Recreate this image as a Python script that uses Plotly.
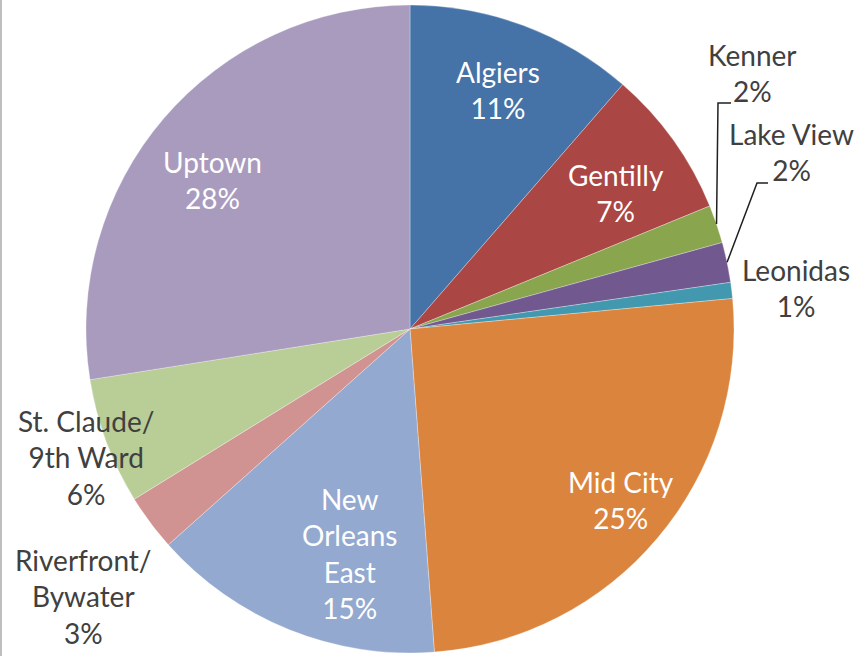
import math
import plotly.graph_objects as go

# ---- data ----
districts = ["Algiers", "Gentilly", "Kenner", "Lake View", "Leonidas", "Mid City",
             "New Orleans East", "Riverfront/Bywater", "St. Claude/9th Ward", "Uptown"]
display_names = ["Algiers", "Gentilly", "Kenner", "Lake View", "Leonidas", "Mid City",
                 "New<br>Orleans<br>East", "Riverfront/<br>Bywater", "St. Claude/<br>9th Ward", "Uptown"]
shares = [11.4, 7.4, 1.9, 2.0, 0.8, 25.3, 14.6, 2.8, 6.3, 27.5]

# ---- style ----
colors = ["#4572A7", "#AA4643", "#89A54E", "#71588F", "#4198AF", "#DB843D",
          "#93A9CF", "#D19392", "#B9CD96", "#A99BBD"]
W, H = 859, 656
CX, CY, R = 410, 329, 324
FONT = "Lato"
FS = 28
DARK = "#404040"

# label anchor (pixel, centre of text block), inside flag, leader elbow
label_layout = {
    "Algiers": dict(xy=(498, 90), inside=True),
    "Gentilly": dict(xy=(616, 193), inside=True),
    "Kenner": dict(xy=(752, 73), inside=False, elbow=(718, 103), end=(731, 103)),
    "Lake View": dict(xy=(791, 152), inside=False, elbow=(757, 183), end=(768, 183)),
    "Leonidas": dict(xy=(796, 288), inside=False),
    "Mid City": dict(xy=(621, 500), inside=True),
    "New Orleans East": dict(xy=(349, 553), inside=True),
    "Riverfront/Bywater": dict(xy=(83, 596), inside=False),
    "St. Claude/9th Ward": dict(xy=(86, 458), inside=False),
    "Uptown": dict(xy=(212, 180), inside=True),
}

total = sum(shares)
pct_text = [f"{math.floor(v / total * 100 + 0.5)}%" for v in shares]

fig = go.Figure(go.Pie(
    labels=districts,
    values=shares,
    sort=False,
    direction="clockwise",
    rotation=0,
    marker=dict(colors=colors, line=dict(color="rgba(255,255,255,0.6)", width=0.5)),
    textinfo="none",
    hoverinfo="label+percent",
    showlegend=False,
    domain=dict(x=[(CX - R) / W, (CX + R) / W], y=[(H - CY - R) / H, (H - CY + R) / H]),
))

def px2paper(x, y):
    return x / W, 1 - y / H

annotations = []
shapes = []
cum = 0.0
for name, disp, v, pct in zip(districts, display_names, shares, pct_text):
    mid = (cum + v / 2) / total * 2 * math.pi
    cum += v
    lay = label_layout[name]
    x, y = px2paper(*lay["xy"])
    annotations.append(dict(
        x=x, y=y, xref="paper", yref="paper", xanchor="center", yanchor="middle",
        text=f"{disp}<br>{pct}", showarrow=False, align="center",
        font=dict(family=FONT, size=FS, color="white" if lay["inside"] else DARK),
    ))
    if "elbow" in lay:
        sx, sy = CX + R * math.sin(mid), CY - R * math.cos(mid)
        ex, ey = lay["elbow"]
        tx, ty = lay["end"]
        pts = [(sx, sy), (ex, ey), (tx, ty)]
        path = "M " + " L ".join(f"{px2paper(a, b)[0]},{px2paper(a, b)[1]}" for a, b in pts)
        shapes.append(dict(type="path", xref="paper", yref="paper", path=path,
                           line=dict(color="#202020", width=1.5)))

# left frame edge
shapes.append(dict(type="line", xref="paper", yref="paper", x0=1 / W, x1=1 / W, y0=0, y1=1,
                   line=dict(color="#BEBEBE", width=2)))

fig.update_layout(
    width=W, height=H,
    margin=dict(l=0, r=0, t=0, b=0),
    paper_bgcolor="white", plot_bgcolor="white",
    annotations=annotations, shapes=shapes,
    font=dict(family=FONT),
)

fig.write_html("out.html", config={"displayModeBar": False},
               post_script="document.body.style.margin='0px';document.body.style.overflow='hidden';")
